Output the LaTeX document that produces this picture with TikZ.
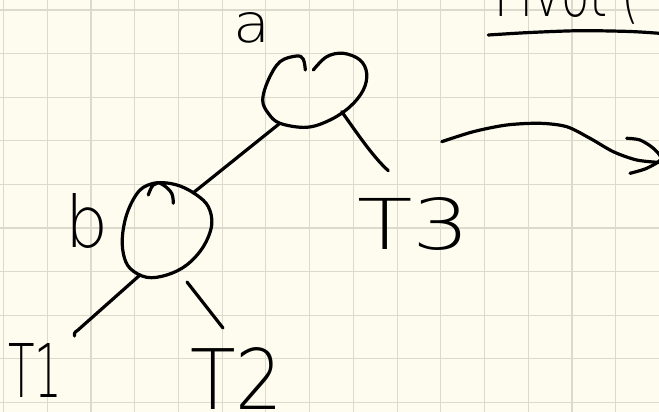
\documentclass[tikz,border=0pt]{standalone}
\usepackage{fontspec}
\setmainfont{DejaVu Sans ExtraLight}
\usepackage{graphicx}
\definecolor{paper}{RGB}{254,252,238}
\definecolor{gridc}{RGB}{220,218,205}
\tikzset{
  ink/.style={line width=3.2pt, line cap=round, line join=round, draw=black},
  lbl/.style={inner sep=0pt, outer sep=0pt, anchor=base west, text=black},
  gridline/.style={draw=gridc, line width=1.1pt}
}
\begin{document}
\begin{tikzpicture}[x=1pt,y=-1pt]
\useasboundingbox (0,0) rectangle (659,412);
\clip (0,0) rectangle (659,412);
\fill[paper] (0,0) rectangle (659,412);
\foreach \i in {0,...,15} \draw[gridline] ({3.5+43.73*\i},0) -- ({3.5+43.73*\i},412);
\foreach \j in {0,...,9} \draw[gridline] (0,{10+43.6*\j}) -- (659,{10+43.6*\j});

% labels
\node[lbl] (la) at (233,42) {\resizebox{37pt}{30pt}{a}};
\node[lbl] (lb) at (65,247) {\resizebox{43pt}{54pt}{b}};
\node[lbl] (t1) at (8,397) {\resizebox{54pt}{54pt}{T1}};
\node[lbl] (t2) at (190,409) {\resizebox{93pt}{62pt}{T2}};
\node[lbl] (t3) at (357,249) {\resizebox{113pt}{52pt}{T3}};
\node[lbl] (piv) at (494,17) {\resizebox{146pt}{45pt}{Pivot (}};

% node a blob
\draw[ink] plot[smooth, tension=0.6] coordinates {(305.3,70) (303.3,59.3) (296.7,56) (280,61.7) (268.3,80) (262.7,100) (268.3,113.3) (280,123.3) (306.7,127.3) (330,120) (350,106.7) (363.3,90) (366.7,73.3) (360,60) (343.3,53.3) (326.7,56.7) (313.3,70)};
% node b blob
\draw[ink] plot[smooth, tension=0.6] coordinates {(173.3,203.3) (171.7,193.3) (163.3,185) (155,183) (140,190) (128.3,210) (122.7,233.3) (123.3,253.3) (130,268.3) (146.7,277.3) (166.7,275) (186.7,265) (203.3,246.7) (211.7,225) (208.3,206.7) (196.7,195) (180,186) (163.3,182.7) (153.3,185) (148.3,195)};

% connector end points
\coordinate (aL) at (279,124);
\coordinate (bT) at (193,193);
\coordinate (aR) at (341.7,111.7);
\coordinate (t3T) at (388.3,170.7);
\coordinate (bL) at (140,275);
\coordinate (t1T) at (78,330);
\coordinate (t1H) at (74.5,336);
\coordinate (bR) at (187,282);
\coordinate (t2T) at (223,328);

\draw[ink] (aL) -- (bT);
\draw[ink] (aR) .. controls (355,130) and (372,156) .. (t3T);
\draw[ink] (bL) -- (t1T) .. controls (74,333) .. (t1H);
\draw[ink] (bR) -- (t2T);

% arrow
\draw[ink] plot[smooth] coordinates {(441.7,141.7) (473.3,131.7) (506.7,125) (540,123.3) (566.7,126.7) (590,138.3) (613.3,151.7) (636.7,160) (660,162.5)};
\draw[ink] plot[smooth] coordinates {(626.7,138.3) (640,140) (653.3,148.3) (661,159) (646.7,168.3) (630,173.3)};

% underline
\draw[ink] plot[smooth] coordinates {(488.3,35) (530,32.5) (580,30.7) (630,31.5) (662,33.5)};
\end{tikzpicture}
\end{document}
